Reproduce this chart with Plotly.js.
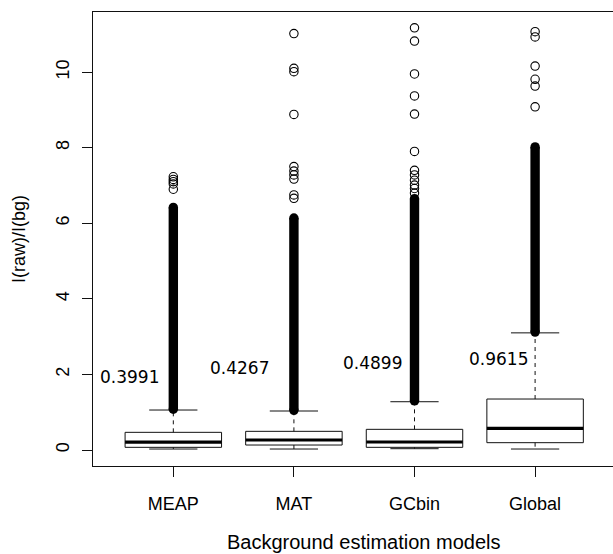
<!DOCTYPE html>
<html>
<head>
<meta charset="utf-8">
<script src="https://cdn.plot.ly/plotly-3.0.1.min.js"></script>
<style>html,body{margin:0;padding:0;background:#fff;overflow:hidden;}</style>
</head>
<body>
<div id="chart" style="width:613px;height:554px;"></div>
<script>
// ---- data ----
const categories = ['MEAP', 'MAT', 'GCbin', 'Global'];
const q1 = [0.071, 0.132, 0.071, 0.194];
const median = [0.210, 0.265, 0.212, 0.573];
const q3 = [0.468, 0.494, 0.547, 1.349];
const lowerWhisker = [0.026, 0.026, 0.035, 0.026];
const upperWhisker = [1.058, 1.032, 1.278, 3.100];
// range covered by the continuous column of overlapping outlier circles
const denseOutlierFrom = [1.08, 1.05, 1.30, 3.12];
const denseOutlierTo = [6.42, 6.14, 6.65, 8.02];
// individually visible outliers above the dense column
const sparseMEAP = [6.90, 7.04, 7.10, 7.16, 7.23];
const sparseMAT = [6.66, 6.75, 7.17, 7.28, 7.38, 7.50, 8.88, 10.01, 10.10, 11.02];
const sparseGCbin = [6.80, 6.92, 7.01, 7.14, 7.28, 7.40, 7.90, 8.89, 9.37, 9.95, 10.82, 11.17];
const sparseGlobal = [9.08, 9.63, 9.81, 10.16, 10.93, 11.07];
const meanLabels = ['0.3991', '0.4267', '0.4899', '0.9615'];
const labelX = [0.637, 1.549, 2.648, 3.700];
const labelY = [1.92, 2.18, 2.30, 2.41];
const yTicks = [0, 2, 4, 6, 8, 10];
const xTitle = 'Background estimation models';
const yTitle = 'I(raw)/I(bg)';

// ---- build traces ----
const sparse = [sparseMEAP, sparseMAT, sparseGCbin, sparseGlobal];
const pos = categories.map((c, i) => i + 1);
const BOX_HALF = 0.4, CAP_HALF = 0.2;
const ink = '#111';

const boxX = [], boxY = [], medX = [], medY = [], whX = [], whY = [], capX = [], capY = [];
const denseX = [], denseY = [], outX = [], outY = [];
pos.forEach((p, i) => {
  boxX.push(p - BOX_HALF, p + BOX_HALF, p + BOX_HALF, p - BOX_HALF, p - BOX_HALF, null);
  boxY.push(q1[i], q1[i], q3[i], q3[i], q1[i], null);
  medX.push(p - BOX_HALF, p + BOX_HALF, null);
  medY.push(median[i], median[i], null);
  whX.push(p, p, null, p, p, null);
  whY.push(q3[i], upperWhisker[i], null, q1[i], lowerWhisker[i], null);
  capX.push(p - CAP_HALF, p + CAP_HALF, null, p - CAP_HALF, p + CAP_HALF, null);
  capY.push(upperWhisker[i], upperWhisker[i], null, lowerWhisker[i], lowerWhisker[i], null);
  denseX.push(p, p, null);
  denseY.push(denseOutlierFrom[i], denseOutlierTo[i], null);
  sparse[i].forEach(v => { outX.push(p); outY.push(v); });
});

const traces = [
  {x: boxX, y: boxY, mode: 'lines', line: {color: ink, width: 1}, hoverinfo: 'skip'},
  {x: whX, y: whY, mode: 'lines', line: {color: ink, width: 1, dash: '4px,4px'}, hoverinfo: 'skip'},
  {x: capX, y: capY, mode: 'lines', line: {color: ink, width: 1}, hoverinfo: 'skip'},
  {x: medX, y: medY, mode: 'lines', line: {color: '#000', width: 3.2}, hoverinfo: 'skip'},
  {x: denseX, y: denseY, mode: 'lines+markers', line: {color: '#000', width: 9.4},
   marker: {symbol: 'circle', size: 9.4, color: '#000'}, hoverinfo: 'skip'},
  {x: outX, y: outY, mode: 'markers',
   marker: {symbol: 'circle-open', size: 8.4, color: '#000', line: {width: 1.1, color: '#000'}}}
];

const FAMILY = 'Liberation Sans, Arial, sans-serif';
const tickFont = {family: FAMILY, size: 18, color: '#000'};

const annotations = meanLabels.map((t, i) => ({
  x: labelX[i], y: labelY[i], xref: 'x', yref: 'y', text: t, showarrow: false,
  xanchor: 'center', yanchor: 'middle',
  font: {family: 'DejaVu Sans, sans-serif', size: 17, color: '#000'}
}));
annotations.push({
  x: 0.521, y: 0, xref: 'paper', yref: 'paper', text: xTitle, showarrow: false,
  xanchor: 'center', yanchor: 'middle', yshift: -76,
  font: {family: FAMILY, size: 20, color: '#000'}
});

const layout = {
  width: 613, height: 554,
  margin: {l: 93, r: 0, t: 12, b: 88, pad: 0},
  paper_bgcolor: '#fff', plot_bgcolor: '#fff',
  showlegend: false,
  xaxis: {
    range: [0.334, 4.646], tickmode: 'array', tickvals: pos, ticktext: categories,
    ticks: 'outside', ticklen: 10, tickwidth: 1, tickcolor: ink,
    showline: true, linecolor: ink, linewidth: 1, mirror: true,
    showgrid: false, zeroline: false, tickfont: tickFont, ticklabelstandoff: 11,
    automargin: false
  },
  yaxis: {
    range: [-0.423, 11.59], tickmode: 'array', tickvals: yTicks,
    tickangle: -90, ticks: 'outside', ticklen: 10, tickwidth: 1, tickcolor: ink,
    showline: true, linecolor: ink, linewidth: 1, mirror: false,
    showgrid: false, zeroline: false, tickfont: tickFont, ticklabelstandoff: 6,
    title: {text: yTitle, font: {family: FAMILY, size: 18, color: '#000'}, standoff: 22},
    automargin: false
  },
  annotations: annotations
};

Plotly.newPlot('chart', traces, layout, {displayModeBar: false, staticPlot: true});
</script>
</body>
</html>
